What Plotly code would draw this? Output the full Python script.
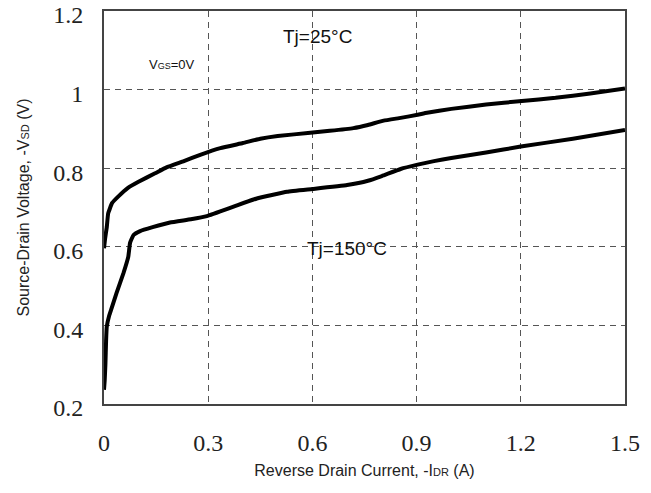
import plotly.graph_objects as go

# Source-drain diode forward characteristics
i_25 = [0.0, 0.003, 0.008, 0.012, 0.023, 0.04, 0.069, 0.098, 0.147, 0.18, 0.23, 0.277,
        0.335, 0.40, 0.45, 0.5, 0.594, 0.65, 0.718, 0.76, 0.805, 0.854, 0.903, 0.93,
        1.0, 1.1, 1.203, 1.3, 1.4, 1.5]
v_25 = [0.596, 0.62, 0.65, 0.685, 0.711, 0.727, 0.75, 0.765, 0.787, 0.802, 0.818, 0.834,
        0.851, 0.864, 0.875, 0.882, 0.890, 0.895, 0.902, 0.910, 0.921, 0.928, 0.936, 0.941,
        0.951, 0.962, 0.971, 0.979, 0.990, 1.003]

i_150 = [0.0, 0.002, 0.004, 0.006, 0.008, 0.015, 0.022, 0.036, 0.056, 0.07, 0.075, 0.085,
         0.104, 0.14, 0.19, 0.25, 0.296, 0.373, 0.44, 0.527, 0.6, 0.7, 0.76, 0.8, 0.854,
         0.903, 0.95, 1.0, 1.1, 1.2, 1.35, 1.5]
v_150 = [0.236, 0.26, 0.30, 0.36, 0.397, 0.425, 0.444, 0.482, 0.533, 0.575, 0.610, 0.630,
         0.640, 0.650, 0.662, 0.670, 0.678, 0.702, 0.723, 0.740, 0.747, 0.757, 0.768, 0.780,
         0.798, 0.809, 0.818, 0.826, 0.840, 0.855, 0.875, 0.897]

x_ticks = [0, 0.3, 0.6, 0.9, 1.2, 1.5]
x_tick_text = ["0", "0.3", "0.6", "0.9", "1.2", "1.5"]
y_ticks = [0.2, 0.4, 0.6, 0.8, 1.0, 1.2]
y_tick_text = ["0.2", "0.4", "0.6", "0.8", "1", "1.2"]

fig = go.Figure()
for xs, ys in [(i_25, v_25), (i_150, v_150)]:
    fig.add_trace(go.Scatter(x=xs, y=ys, mode="lines",
                             line=dict(color="black", width=4, shape="spline", smoothing=0.3),
                             showlegend=False, hoverinfo="skip"))

grid = dict(showgrid=True, gridcolor="#555555", griddash="6px,5px", gridwidth=1.2,
            showline=True, linecolor="#444444", linewidth=2, mirror=True,
            zeroline=False, ticks="", automargin=False, ticklabeloverflow="allow",
            tickfont=dict(family="Liberation Serif", size=24, color="#222"))

fig.update_xaxes(range=[0, 1.5], tickvals=x_ticks, ticktext=x_tick_text,
                 ticklabelstandoff=16,
                 title=dict(text="Reverse Drain Current, -I<span style='font-size:11px'>DR</span> (A)",
                            font=dict(family="Liberation Sans", size=16, color="#222"), standoff=10),
                 **grid)
fig.update_yaxes(range=[0.2, 1.2], tickvals=y_ticks, ticktext=y_tick_text,
                 ticklabelstandoff=14, ticklabelshift=4,
                 title=dict(text="Source-Drain Voltage, -V<span style='font-size:11px'>SD</span> (V)",
                            font=dict(family="Liberation Sans", size=16, color="#222"), standoff=20),
                 **grid)

ann_font = dict(family="Liberation Sans", color="#111")
fig.add_annotation(x=0.615, y=1.135, text="Tj=25°C", showarrow=False,
                   font=dict(size=19, **ann_font))
fig.add_annotation(x=0.70, y=0.595, text="Tj=150°C", showarrow=False,
                   font=dict(size=19, **ann_font))
fig.add_annotation(x=0.195, y=1.065, text="V<span style='font-size:9px'>GS</span>=0V",
                   showarrow=False, font=dict(size=13, **ann_font))

fig.update_layout(width=651, height=493, margin=dict(l=104, r=26, t=11, b=89),
                  plot_bgcolor="white", paper_bgcolor="white")

fig.write_html("out.html")
